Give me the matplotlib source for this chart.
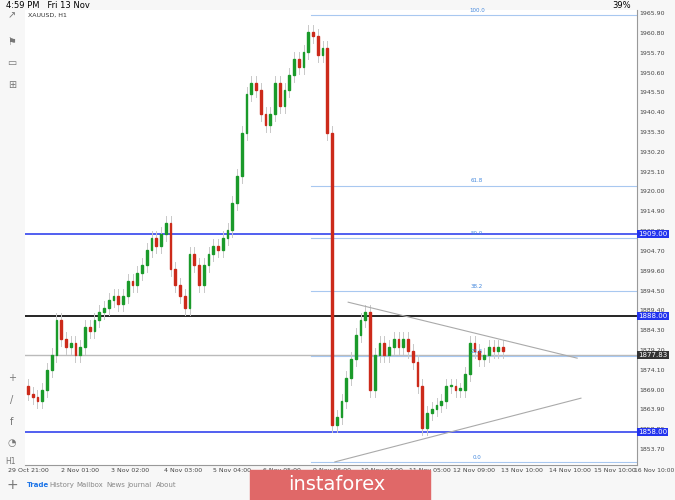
import matplotlib
matplotlib.use("Agg")
import matplotlib.pyplot as plt
from matplotlib.patches import Rectangle
import numpy as np

closes = [1868,1867,1866,1869,1874,1878,1887,1882,1880,1881,1878,1880,1885,1884,1887,1889,1890,1892,1893,1891,
          1893,1897,1896,1899,1901,1905,1908,1906,1909,1912,1900,1896,1893,1890,1904,1901,1896,1901,1904,1906,
          1905,1908,1910,1917,1924,1935,1945,1948,1946,1940,1937,1940,1948,1942,1946,1950,1954,1952,1956,1961,
          1960,1955,1957,1935,1860,1862,1866,1872,1877,1883,1887,1889,1869,1878,1881,1878,1880,1882,1880,1882,
          1879,1876,1870,1859,1863,1864,1865,1866,1870,1870,1869,1869,1873,1881,1879,1877,1878,1880,1879,1880,1879]
first_open = 1870
yticks = [1965.90,1960.80,1955.70,1950.60,1945.50,1940.40,1935.30,1930.20,1925.10,1920.00,1914.90,1909.80,
          1904.70,1899.60,1894.50,1889.40,1884.30,1879.20,1874.10,1869.00,1863.90,1858.80,1853.70]
xtick_pos = [0, 10.9, 21.5, 32.6, 42.9, 53.5, 64.0, 74.5, 84.5, 93.9, 104.0, 114.0, 123.6]
xtick_lab = ["29 Oct 21:00","2 Nov 01:00","3 Nov 02:00","4 Nov 03:00","5 Nov 04:00","6 Nov 05:00",
             "9 Nov 06:00","10 Nov 07:00","11 Nov 05:00","12 Nov 09:00","13 Nov 10:00","14 Nov 10:00","15 Nov 10:00"]
fib_levels = [0.0, 23.6, 38.2, 50.0, 61.8, 100.0]
fib_low, fib_high = 1850.4, 1965.4
hlines = {"1909.00": (1909.0, "#3344ee"), "1888.00": (1888.0, "#000000"), "1858.00": (1858.0, "#3344ee")}
last_price = 1877.83

plt.rcParams['font.family'] = ['DejaVu Sans']
fig = plt.figure(figsize=(6.75, 5), dpi=100)
fig.patch.set_facecolor("#f7f7f7")
ax = fig.add_axes([25/675, 35/500, 612/675, 455/500])
ax.set_facecolor("white")
ax.set_xlim(-0.63, 128.2)
ax.set_ylim(1849.6, 1966.7)

opens = [first_open] + closes[:-1]
for i, (o, c) in enumerate(zip(opens, closes)):
    hi, lo = max(o, c) + 1.8, min(o, c) - 1.8
    ax.plot([i, i], [lo, hi], color="#c8c8c8", lw=0.7, zorder=2)
    col = "#1a9a2a" if c >= o else "#cc2a1a"
    ax.add_patch(Rectangle((i - 0.2, min(o, c)), 0.4, max(abs(c - o), 0.3), color=col, zorder=3))

for name, (v, col) in hlines.items():
    ax.axhline(v, color=col, lw=1.2, zorder=1)
    ax.text(1.002, v, name, transform=ax.get_yaxis_transform(), fontsize=5, color="white", va="center",
            ha="left", bbox=dict(boxstyle="square,pad=0.15", fc="#2233ee", ec="none"))
ax.axhline(last_price, color="#bbbbbb", lw=1.0, zorder=1)
ax.text(1.002, last_price, "1877.83", transform=ax.get_yaxis_transform(), fontsize=5, color="white",
        va="center", ha="left", bbox=dict(boxstyle="square,pad=0.15", fc="#333333", ec="none"))

for f in fib_levels:
    v = fib_low + (fib_high - fib_low) * f / 100
    ax.plot([59.5, 128.2], [v, v], color="#a8c8f0", lw=0.8, zorder=1)
    ax.text(94.5, v + 0.6, f"{f:.1f}", fontsize=4, color="#4488dd", ha="center", va="bottom")

ax.plot([67.4, 115.6], [1891.5, 1877.1], color="#aaaaaa", lw=0.8, zorder=4)
ax.plot([64.6, 116.4], [1850.4, 1866.8], color="#aaaaaa", lw=0.8, zorder=4)

ax.yaxis.tick_right()
ax.set_yticks(yticks)
ax.set_yticklabels([f"{t:.2f}" for t in yticks], fontsize=4.5, color="#444444")
ax.set_xticks(xtick_pos)
ax.set_xticklabels(xtick_lab, fontsize=4.5, color="#444444")
ax.tick_params(length=0, pad=2)
for s in ["top", "left"]:
    ax.spines[s].set_visible(False)
for s in ["right", "bottom"]:
    ax.spines[s].set_color("#999999")
ax.text(0.005, 0.995, "XAUUSD, H1", transform=ax.transAxes, fontsize=4.5, va="top", color="#333333")

fig.text(6/675, 1 - 5/500, "4:59 PM   Fri 13 Nov", fontsize=6, va="center")
fig.text(612/675, 1 - 5/500, "39%", fontsize=6, va="center")
fig.text(674/675, 1 - 471/500, "16 Nov 10:00", fontsize=4.3, color="#444444", va="center", ha="right")
for y, t in [(15, "↗"), (42, "⚑"), (63, "▭"), (85, "⊞"), (378, "+"), (400, "/"), (422, "f"), (443, "◔")]:
    fig.text(12/675, 1 - y/500, t, fontsize=7, color="#777777", ha="center", va="center")
fig.text(11/675, 1 - 462/500, "H1", fontsize=5.5, color="#777777", ha="center", va="center")
fig.text(12/675, 1 - 485/500, "+", fontsize=10, color="#777777", ha="center", va="center")
tabs = [("Trade", 38), ("History", 62), ("Mailbox", 90), ("News", 116), ("Journal", 140), ("About", 166)]
for t, x in tabs:
    fig.text(x/675, 1 - 485/500, t, fontsize=5, color="#1a73e8" if t == "Trade" else "#888888",
             ha="center", va="center", weight="bold" if t == "Trade" else "normal")
fig.patches.append(Rectangle((250/675, 0), 180/675, 30/500, transform=fig.transFigure, color="#e06868"))
fig.text(337/675, 1 - 485/500, "instaforex", fontsize=14, color="white", ha="center", va="center")

fig.savefig("out.png", dpi=100, facecolor=fig.get_facecolor())
